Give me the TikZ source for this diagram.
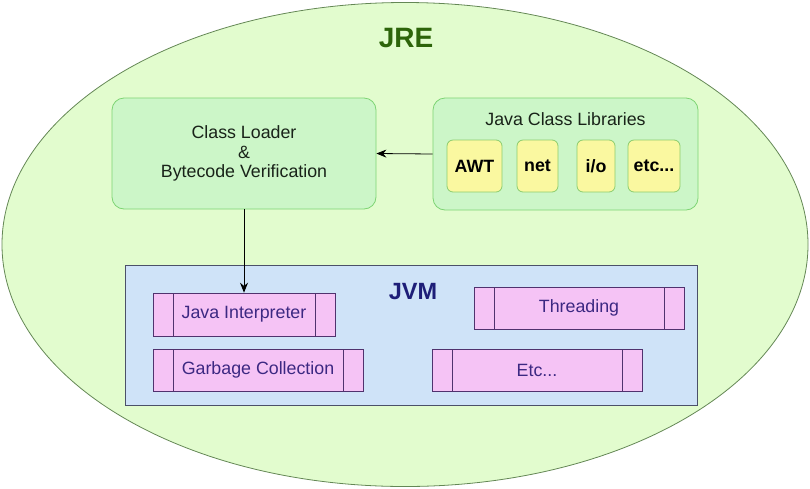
\documentclass[tikz,border=0pt]{standalone}
\usepackage{fontspec}
\setmainfont{Liberation Sans}
\usetikzlibrary{shapes.geometric,arrows.meta}

\definecolor{jrefill}{RGB}{226,252,206}
\definecolor{jredraw}{RGB}{100,135,85}
\definecolor{jretext}{RGB}{45,100,10}
\definecolor{boxfill}{RGB}{204,246,200}
\definecolor{boxdraw}{RGB}{125,212,115}
\definecolor{boxtext}{RGB}{25,35,25}
\definecolor{libfill}{RGB}{250,248,160}
\definecolor{libdraw}{RGB}{140,205,110}
\definecolor{jvmfill}{RGB}{207,227,248}
\definecolor{jvmdraw}{RGB}{75,80,105}
\definecolor{jvmtext}{RGB}{30,30,120}
\definecolor{procfill}{RGB}{245,195,245}
\definecolor{procdraw}{RGB}{80,50,110}
\definecolor{proctext}{RGB}{60,40,130}

\newcommand*{\txt}{\fontsize{17.8}{19.8}\selectfont}

\begin{document}
\begin{tikzpicture}
[
	x=1pt,y=-1pt,
	>={Stealth[length=10pt,width=8pt]},
	jre/.style={ellipse,draw=jredraw,fill=jrefill,thick,inner sep=0pt,minimum width=806pt,minimum height=484pt},
	greenbox/.style={draw=boxdraw,fill=boxfill,thick,rounded corners=12pt,inner sep=0pt,minimum height=111pt},
	libbox/.style={draw=libdraw,fill=libfill,thick,rounded corners=6pt,inner sep=0pt,minimum height=52pt,font=\txt\bfseries},
	jvmbox/.style={draw=jvmdraw,fill=jvmfill,semithick,inner sep=0pt,minimum width=572pt,minimum height=140pt},
	proc/.style={draw=procdraw,fill=procfill,text=proctext,semithick,inner sep=0pt,minimum height=42pt,font=\txt,
		path picture={\draw[procdraw,semithick] ([xshift=20pt]path picture bounding box.north west) -- ([xshift=20pt]path picture bounding box.south west)
			([xshift=-20pt]path picture bounding box.north east) -- ([xshift=-20pt]path picture bounding box.south east);}}
]

	\useasboundingbox (0,0) rectangle (810,488);

	% JRE
	\node[jre] at (405,244.5) (jre) {};
	\node[text=jretext,font=\fontsize{28}{30}\selectfont\bfseries] at (406,38) (jrelabel) {JRE};

	% class loader and libraries
	\node[greenbox,minimum width=264pt,align=center,font=\txt,text=boxtext] at (244,153.5) (cl)
		{Class Loader\\\&\\Bytecode Verification};
	\node[greenbox,minimum width=265pt,minimum height=112pt] at (565.5,154) (jcl) {};
	\node[font=\txt,text=boxtext] at (565.5,119) (jcllabel) {Java Class Libraries};
	\node[libbox,minimum width=55pt] at (474.5,166) (awt) {AWT};
	\node[libbox,minimum width=41pt] at (537.5,166) (net) {net};
	\node[libbox,minimum width=38pt] at (596,166) (io) {i/o};
	\node[libbox,minimum width=52pt] at (654,166) (etc) {etc...};

	% JVM
	\node[jvmbox] at (411,335) (jvm) {};
	\node[text=jvmtext,font=\fontsize{23.5}{26}\selectfont\bfseries] at (413,292) (jvmlabel) {JVM};
	\node[proc,minimum width=182pt,minimum height=43pt] at (244,314.5) (ji) {Java Interpreter};
	\node[proc,minimum width=210pt] at (258,370) (gc) {Garbage Collection};
	\node[proc,minimum width=210pt] at (579,308) (thr) {Threading};
	\node[proc,minimum width=210pt] at (537,370) (etcjvm) {Etc...};

	% arrows
	\draw[->,thick] (jcl.west) -- (cl.east);
	\draw[->,thick] (cl.south) -- (ji.north);

\end{tikzpicture}
\end{document}
